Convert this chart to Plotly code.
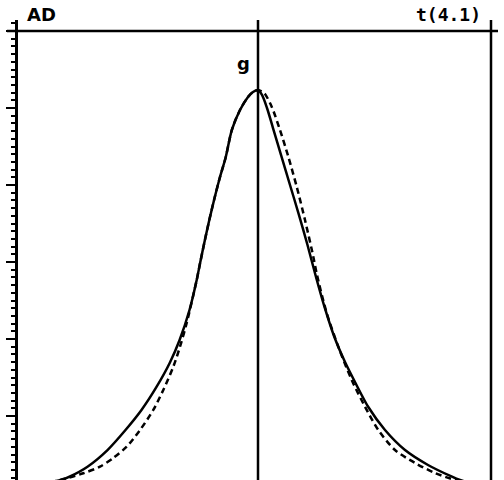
import plotly.graph_objects as go

# Solid curve
solid_x = [-5.2, -4.92, -4.7125, -4.2625, -3.7625, -3.3125, -2.9125, -2.5375, -2.2075, -1.96,
           -1.7125, -1.5325, -1.4475, -1.3275, -1.2175, -1.08, -0.95, -0.805, -0.655, -0.45,
           -0.25, -0.125, 0.0, 0.1, 0.225, 0.375, 0.575, 0.8, 1.025, 1.2375, 1.45, 1.6625,
           1.9, 2.175, 2.45, 2.7575, 3.175, 3.675, 4.25, 4.85, 5.05, 5.3]
solid_y = [0.143, 0.169, 0.212, 0.342, 0.558, 0.818, 1.078, 1.377, 1.688, 1.987,
           2.377, 2.766, 2.987, 3.286, 3.545, 3.844, 4.104, 4.364, 4.714, 4.974,
           5.143, 5.208, 5.234, 5.169, 5.0, 4.74, 4.39, 4.0, 3.61, 3.221, 2.805, 2.416,
           2.039, 1.701, 1.416, 1.117, 0.818, 0.558, 0.364, 0.212, 0.169, 0.13]

# Dashed curve
dash_x = [-5.2, -4.95, -4.3675, -3.95, -3.6175, -3.2825, -2.95, -2.6175, -2.3675, -2.1175,
          -1.95, -1.7825, -1.5325, -1.4475, -1.3275, -1.2175, -1.08, -0.95, -0.805, -0.655,
          -0.45, -0.25, -0.125, 0.0, 0.1, 0.175, 0.3425, 0.55, 0.7575, 0.9675, 1.175, 1.3825,
          1.475, 1.7175, 2.0075, 2.3425, 2.675, 3.0075, 3.425, 3.925, 4.425, 4.925, 5.3]
dash_y = [0.143, 0.169, 0.256, 0.342, 0.455, 0.601, 0.818, 1.078, 1.338, 1.64,
          1.9, 2.208, 2.766, 2.987, 3.286, 3.545, 3.844, 4.104, 4.364, 4.714,
          4.974, 5.143, 5.208, 5.231, 5.214, 5.182, 5.017, 4.714, 4.368, 3.978, 3.545, 3.069,
          2.831, 2.338, 1.9, 1.468, 1.121, 0.818, 0.558, 0.39, 0.26, 0.169, 0.13]

label_left = "AD"
label_right = "t(4.1)"
label_peak = "g"

fig = go.Figure()
fig.add_trace(go.Scatter(x=solid_x, y=solid_y, mode="lines",
                         line=dict(color="black", width=2.5, shape="spline", smoothing=0.8),
                         showlegend=False, hoverinfo="skip"))
fig.add_trace(go.Scatter(x=dash_x, y=dash_y, mode="lines",
                         line=dict(color="black", width=2.5, dash="6px,4px", shape="spline", smoothing=0.8),
                         showlegend=False, hoverinfo="skip"))

ytop = 460 / 480
fig.update_layout(
    width=504, height=480,
    margin=dict(l=0, r=0, t=0, b=0),
    paper_bgcolor="white", plot_bgcolor="white",
    xaxis=dict(visible=False, range=[-6.45, 6.15], domain=[0, 1]),
    yaxis=dict(range=[(493 - 480) / 77, (493 - 20) / 77], domain=[0, ytop],
               anchor="free", position=15.5 / 504,
               showline=True, linecolor="black", linewidth=2.5,
               showgrid=False, zeroline=False, showticklabels=False,
               ticks="outside", tickmode="linear", tick0=0, dtick=1,
               ticklen=9, tickwidth=2, tickcolor="black",
               minor=dict(ticks="outside", tickmode="linear", tick0=0, dtick=0.1,
                          ticklen=4, tickwidth=2, tickcolor="black", showgrid=False)),
    shapes=[
        dict(type="line", xref="paper", yref="y", x0=7 / 504, x1=498 / 504, y0=6, y1=6,
             line=dict(color="black", width=2.5)),
        dict(type="line", xref="x", yref="paper", x0=0, x1=0, y0=0, y1=ytop,
             line=dict(color="black", width=2.5)),
        dict(type="line", xref="x", yref="paper", x0=5.825, x1=5.825, y0=0, y1=ytop,
             line=dict(color="black", width=2.5)),
    ],
    annotations=[
        dict(text="<b>" + label_left + "</b>", xref="paper", yref="paper", x=25 / 504, y=1 - 14 / 480,
             xanchor="left", yanchor="middle", showarrow=False,
             font=dict(family="DejaVu Sans", size=18, color="black")),
        dict(text="<b>" + label_right + "</b>", xref="paper", yref="paper", x=483 / 504, y=1 - 14 / 480,
             xanchor="right", yanchor="middle", showarrow=False,
             font=dict(family="DejaVu Sans Mono", size=18, color="black")),
        dict(text="<b>" + label_peak + "</b>", xref="paper", yref="paper", x=243 / 504, y=1 - 64 / 480,
             xanchor="center", yanchor="middle", showarrow=False,
             font=dict(family="DejaVu Sans", size=18, color="black")),
    ],
)

fig.write_html("out.html")
